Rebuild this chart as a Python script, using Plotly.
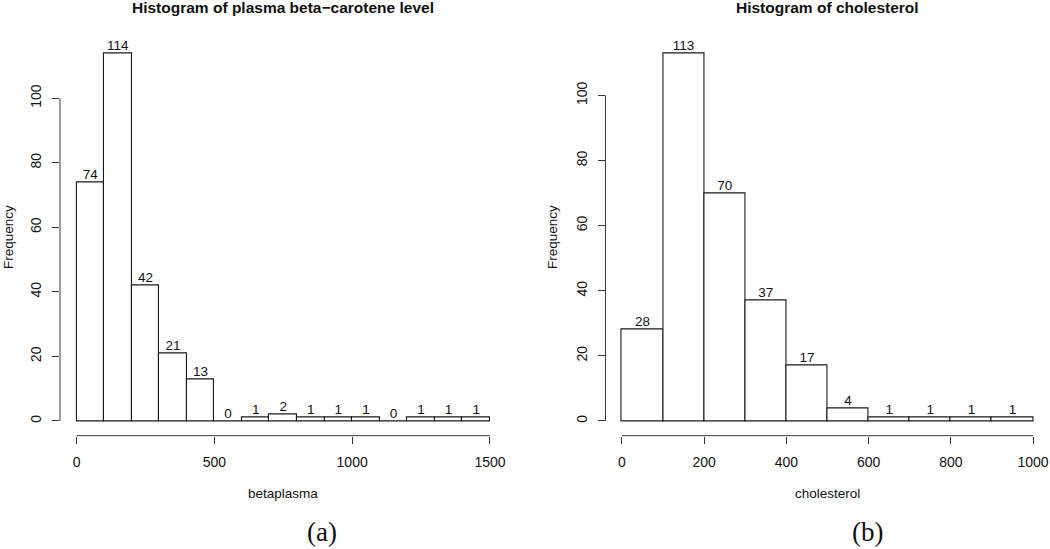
import plotly.graph_objects as go

# ---- data ----
beta_breaks = list(range(0, 1600, 100))
beta_counts = [74, 114, 42, 21, 13, 0, 1, 2, 1, 1, 1, 0, 1, 1, 1]
chol_breaks = list(range(0, 1100, 100))
chol_counts = [28, 113, 70, 37, 17, 4, 1, 1, 1, 1]
beta_xticks = [0, 500, 1000, 1500]
chol_xticks = [0, 200, 400, 600, 800, 1000]
yticks = [0, 20, 40, 60, 80, 100]

W, H = 1050, 549
FONT = "Liberation Sans, Arial, Helvetica, sans-serif"
AXC = "#3a3a3a"
BARC = "#1a1a1a"


def centers(br):
    return [(a + b) / 2 for a, b in zip(br[:-1], br[1:])]


def widths(br):
    return [b - a for a, b in zip(br[:-1], br[1:])]


fig = go.Figure()

panels = [
    dict(br=beta_breaks, cnt=beta_counts, xt=beta_xticks, xa="x", ya="y",
         px=(60, 506.5), title="Histogram of plasma beta\u2212carotene level",
         xlabel="betaplasma", tag="(a)", ylab_x=8),
    dict(br=chol_breaks, cnt=chol_counts, xt=chol_xticks, xa="x2", ya="y2",
         px=(605.5, 1049.5), title="Histogram of cholesterol",
         xlabel="cholesterol", tag="(b)", ylab_x=552),
]

py_top, py_bot = 38.4, 435.7
ydom = [1 - py_bot / H, 1 - py_top / H]

annotations = []
shapes = []
for i, p in enumerate(panels):
    br, cnt = p["br"], p["cnt"]
    fig.add_trace(go.Bar(
        x=centers(br), y=cnt, width=widths(br),
        marker=dict(color="white", line=dict(color=BARC, width=1.1)),
        xaxis=p["xa"], yaxis=p["ya"], showlegend=False, hoverinfo="x+y",
    ))
    fig.add_trace(go.Scatter(
        x=centers(br), y=cnt, mode="text", text=[str(c) for c in cnt],
        textposition="top center", textfont=dict(family=FONT, size=13.5, color="#111"),
        xaxis=p["xa"], yaxis=p["ya"], showlegend=False, cliponaxis=False, hoverinfo="skip",
    ))
    lo, hi = br[0], br[-1]
    span = hi - lo
    xr = [lo - 0.04 * span, hi + 0.04 * span]
    ymax = max(cnt)
    yr = [-0.04 * ymax, 1.04 * ymax]
    xdom = [p["px"][0] / W, p["px"][1] / W]
    suffix = "" if i == 0 else "2"
    fig.layout["xaxis" + suffix] = dict(
        domain=xdom, range=xr, anchor="y" + suffix, showline=False, showgrid=False,
        zeroline=False, tickmode="array", tickvals=p["xt"], ticks="outside",
        ticklen=7, tickwidth=1, tickcolor=AXC, ticklabelstandoff=6,
        tickfont=dict(family=FONT, size=14, color="#111"), fixedrange=True,
    )
    fig.layout["yaxis" + suffix] = dict(
        domain=ydom, range=yr, anchor="x" + suffix, showline=False, showgrid=False,
        zeroline=False, tickmode="array", tickvals=yticks, ticks="outside",
        ticklen=7, tickwidth=1, tickcolor=AXC, tickangle=-90, ticklabelstandoff=5,
        tickfont=dict(family=FONT, size=14, color="#111"), fixedrange=True,
    )
    # axis lines spanning only the tick range (R style)
    shapes.append(dict(type="line", xref=p["xa"], yref="paper",
                       x0=p["xt"][0], x1=p["xt"][-1], y0=ydom[0], y1=ydom[0],
                       line=dict(color=AXC, width=1)))
    shapes.append(dict(type="line", xref="paper", yref=p["ya"],
                       x0=xdom[0], x1=xdom[0], y0=yticks[0], y1=yticks[-1],
                       line=dict(color=AXC, width=1)))
    cx = (xdom[0] + xdom[1]) / 2
    annotations.append(dict(text="<b>" + p["title"] + "</b>", x=cx, y=1 - 8 / H,
                            xref="paper", yref="paper", showarrow=False,
                            font=dict(family=FONT, size=15.5, color="#111"),
                            xanchor="center", yanchor="middle"))
    annotations.append(dict(text=p["xlabel"], x=cx, y=1 - 493 / H,
                            xref="paper", yref="paper", showarrow=False,
                            font=dict(family=FONT, size=13.5, color="#111"),
                            xanchor="center", yanchor="middle"))
    annotations.append(dict(text="Frequency", x=p["ylab_x"] / W, y=(ydom[0] + ydom[1]) / 2,
                            xref="paper", yref="paper", showarrow=False, textangle=-90,
                            font=dict(family=FONT, size=13.5, color="#111"),
                            xanchor="center", yanchor="middle"))
    tx = 322 if i == 0 else 867
    annotations.append(dict(text=p["tag"], x=tx / W, y=1 - 532 / H,
                            xref="paper", yref="paper", showarrow=False,
                            font=dict(family="Liberation Serif, DejaVu Serif, serif", size=27, color="#111"),
                            xanchor="center", yanchor="middle"))

fig.update_layout(
    width=W, height=H, margin=dict(l=0, r=0, t=0, b=0),
    paper_bgcolor="white", plot_bgcolor="white",
    bargap=0, annotations=annotations, shapes=shapes,
)

fig.write_html("out.html", config={"displayModeBar": False},
               post_script="document.body.style.margin='0';document.body.style.overflow='hidden';")
